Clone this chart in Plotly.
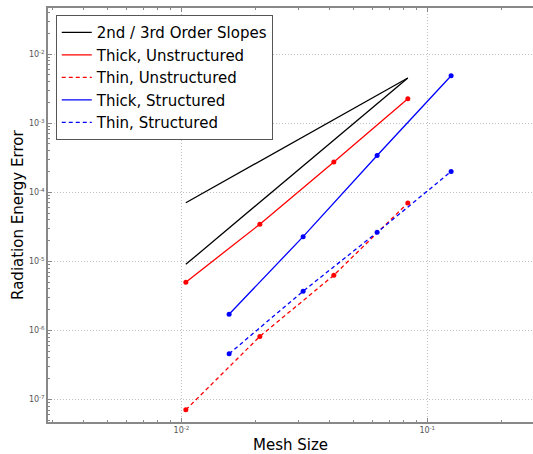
import plotly.graph_objects as go

# Mesh sizes
mesh_unstructured = [1/96, 1/48, 1/24, 1/12]
mesh_structured = [1/64, 1/32, 1/16, 1/8]

# Errors
thick_unstructured = [5.0e-6, 3.45e-5, 2.75e-4, 2.25e-3]
thin_unstructured = [7.1e-8, 8.2e-7, 6.3e-6, 7.0e-5]
thick_structured = [1.72e-6, 2.28e-5, 3.4e-4, 4.86e-3]
thin_structured = [4.6e-7, 3.7e-6, 2.63e-5, 2.0e-4]

# Reference slope lines (2nd and 3rd order)
slope_x = [1/96, 1/12]
slope2_y = [7.06e-5, 4.5e-3]
slope3_y = [9.05e-6, 4.5e-3]

xtick_vals = [1e-2, 1e-1]
xtick_text = ["10<sup>-2</sup>", "10<sup>-1</sup>"]
ytick_vals = [1e-7, 1e-6, 1e-5, 1e-4, 1e-3, 1e-2]
ytick_text = ["10<sup>-7</sup>", "10<sup>-6</sup>", "10<sup>-5</sup>",
              "10<sup>-4</sup>", "10<sup>-3</sup>", "10<sup>-2</sup>"]

legend_names = ["2nd / 3rd Order Slopes", "Thick, Unstructured", "Thin, Unstructured",
                "Thick, Structured", "Thin, Structured"]
legend_colors = ["black", "#ff0000", "#ff0000", "#0000ff", "#0000ff"]
legend_dashes = ["solid", "solid", "4px,3px", "solid", "4px,3px"]

FONT = "DejaVu Sans"
LW = 1.3


def minor_vals(decades):
    return [m * 10.0 ** d for d in decades for m in range(2, 10)]


fig = go.Figure()

fig.add_trace(go.Scatter(
    x=slope_x + [None] + slope_x,
    y=slope2_y + [None] + slope3_y,
    mode="lines", line=dict(color="black", width=LW),
    showlegend=False, name=legend_names[0]))

series = [
    (mesh_unstructured, thick_unstructured, 1),
    (mesh_unstructured, thin_unstructured, 2),
    (mesh_structured, thick_structured, 3),
    (mesh_structured, thin_structured, 4),
]
for xs, ys, i in series:
    fig.add_trace(go.Scatter(
        x=xs, y=ys, mode="lines+markers",
        line=dict(color=legend_colors[i], width=LW, dash=legend_dashes[i]),
        marker=dict(size=5, color=legend_colors[i]),
        showlegend=False, name=legend_names[i]))

# legend-only entries (lines without markers, as in the reference)
for name, col, dash in zip(legend_names, legend_colors, legend_dashes):
    fig.add_trace(go.Scatter(
        x=[None], y=[None], mode="lines",
        line=dict(color=col, width=LW, dash=dash), name=name))

axis_common = dict(
    type="log", showline=True, linecolor="#888888", linewidth=1.5,
    showgrid=True, gridcolor="#c0c0c0", griddash="1px,2px", gridwidth=1,
    ticks="inside", ticklen=4, tickcolor="#888888", tickwidth=1,
    tickfont=dict(size=8, color="#555555", family=FONT),
    zeroline=False, automargin=False,
)

fig.update_xaxes(
    **axis_common, range=[-2.543, -0.570], mirror="ticks",
    tickmode="array", tickvals=xtick_vals, ticktext=xtick_text,
    minor=dict(ticks="inside", ticklen=2, tickcolor="#888888", tickwidth=1,
               showgrid=False, tickmode="array", tickvals=minor_vals([-3, -2, -1])),
)
fig.update_yaxes(
    **axis_common, range=[-7.325, -1.333],
    tickmode="array", tickvals=ytick_vals, ticktext=ytick_text,
    minor=dict(ticks="inside", ticklen=2, tickcolor="#888888", tickwidth=1,
               showgrid=False, tickmode="array",
               tickvals=minor_vals([-8, -7, -6, -5, -4, -3, -2])),
)

fig.add_annotation(
    text="Mesh Size", xref="paper", yref="paper", x=0.5, y=-0.056,
    xanchor="center", yanchor="middle", showarrow=False,
    font=dict(size=15, color="black", family=FONT))
fig.add_annotation(
    text="Radiation Energy Error", xref="paper", yref="paper", x=-0.062, y=0.5,
    xanchor="center", yanchor="middle", textangle=-90, showarrow=False,
    font=dict(size=15, color="black", family=FONT))

fig.update_layout(
    width=533, height=454,
    margin=dict(l=48, r=0, t=8, b=32),
    paper_bgcolor="white", plot_bgcolor="white",
    font=dict(family=FONT),
    legend=dict(
        x=0.016, y=0.983, xanchor="left", yanchor="top",
        bgcolor="white", bordercolor="#555555", borderwidth=1,
        font=dict(size=15, color="black", family=FONT),
        tracegroupgap=0,
    ),
    showlegend=True,
)

fig.write_html(
    "out.html",
    config={"displayModeBar": False},
    post_script="document.body.style.margin='0';document.body.style.overflow='hidden';",
)
